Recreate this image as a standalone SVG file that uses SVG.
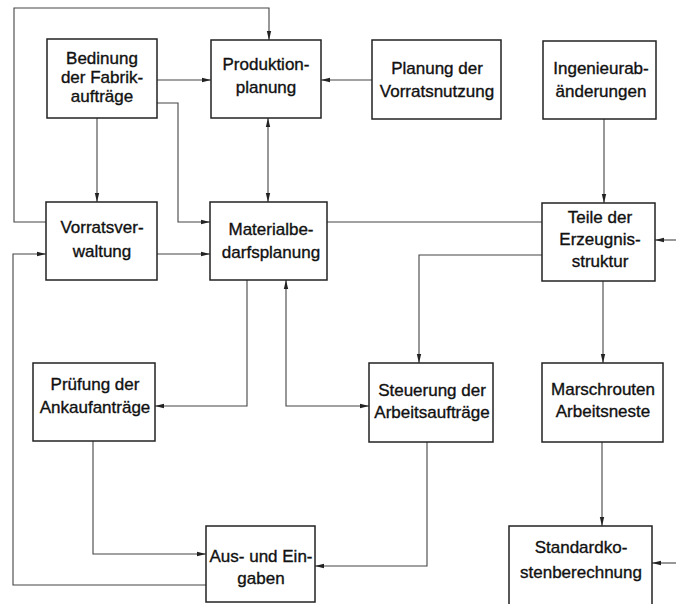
<svg xmlns="http://www.w3.org/2000/svg" width="676" height="604" viewBox="0 0 676 604">
<defs>
<style>
.box{fill:#fff;stroke:#222;stroke-width:1.5}
.lbl{font-family:"Liberation Sans",Arial,sans-serif;font-size:17px;fill:#111;stroke:#111;stroke-width:0.35;text-anchor:middle}
.c{fill:none;stroke:#444;stroke-width:1.1}
.a{marker-end:url(#ah)}
.b{marker-start:url(#ah);marker-end:url(#ah)}
</style>
<marker id="ah" markerUnits="userSpaceOnUse" markerWidth="9" markerHeight="6" viewBox="0 0 9 6" refX="9" refY="3" orient="auto-start-reverse">
<path d="M0,0.8 L9,3 L0,5.2 Z" fill="#222"/>
</marker>
</defs>
<rect width="676" height="604" fill="#fff"/>
<g id="connectors">
<path class="c a" d="M46,222 H14 V8 H269 V40"/>
<path class="c a" d="M157,80 H211"/>
<path class="c a" d="M372,80 H321"/>
<path class="c a" d="M97,118 V202"/>
<path class="c a" d="M157,103 H178 V222 H210"/>
<path class="c b" d="M268,118 V202"/>
<path class="c a" d="M157,254 H210"/>
<path class="c" d="M542,222 H327"/>
<path class="c a" d="M542,255 H419 V363"/>
<path class="c a" d="M604,119 V203"/>
<path class="c a" d="M676,240 H655"/>
<path class="c a" d="M247,280 V406 H155"/>
<path class="c b" d="M286,280 V406 H369"/>
<path class="c a" d="M603,281 V363"/>
<path class="c a" d="M93,441 V554 H206"/>
<path class="c a" d="M427,442 V566 H315"/>
<path class="c a" d="M206,585 H13 V254 H46"/>
<path class="c a" d="M602,442 V526"/>
<path class="c a" d="M676,563 H652"/>
</g>
<g id="bedinung"><rect class="box" x="47" y="39" width="110" height="79"/>
<text class="lbl" x="102" y="64">Bedinung</text><text class="lbl" x="102" y="83">der Fabrik-</text><text class="lbl" x="102" y="102">aufträge</text></g>
<g id="produktion"><rect class="box" x="211" y="40" width="110" height="78"/>
<text class="lbl" x="266" y="70">Produktion-</text><text class="lbl" x="266" y="93">planung</text></g>
<g id="planung"><rect class="box" x="372" y="40" width="129" height="79"/>
<text class="lbl" x="437" y="74">Planung der</text><text class="lbl" x="437" y="97">Vorratsnutzung</text></g>
<g id="ingenieur"><rect class="box" x="543" y="41" width="113" height="78"/>
<text class="lbl" x="601" y="74">Ingenieurab-</text><text class="lbl" x="601" y="97">änderungen</text></g>
<g id="vorrats"><rect class="box" x="46" y="202" width="111" height="78"/>
<text class="lbl" x="102" y="233">Vorratsver-</text><text class="lbl" x="102" y="257">waltung</text></g>
<g id="material"><rect class="box" x="210" y="202" width="117" height="78"/>
<text class="lbl" x="271" y="235">Materialbe-</text><text class="lbl" x="271" y="258">darfsplanung</text></g>
<g id="teile"><rect class="box" x="542" y="203" width="113" height="78"/>
<text class="lbl" x="600" y="223">Teile der</text><text class="lbl" x="600" y="245">Erzeugnis-</text><text class="lbl" x="600" y="267">struktur</text></g>
<g id="pruefung"><rect class="box" x="33" y="363" width="122" height="78"/>
<text class="lbl" x="95" y="390">Prüfung der</text><text class="lbl" x="95" y="413">Ankaufanträge</text></g>
<g id="steuerung"><rect class="box" x="369" y="363" width="124" height="79"/>
<text class="lbl" x="432" y="396">Steuerung der</text><text class="lbl" x="432" y="418">Arbeitsaufträge</text></g>
<g id="marschrouten"><rect class="box" x="542" y="363" width="121" height="79"/>
<text class="lbl" x="603" y="395">Marschrouten</text><text class="lbl" x="603" y="417">Arbeitsneste</text></g>
<g id="ausein"><rect class="box" x="206" y="526" width="109" height="76"/>
<text class="lbl" x="261" y="562">Aus- und Ein-</text><text class="lbl" x="261" y="584">gaben</text></g>
<g id="standard"><rect class="box" x="509" y="526" width="143" height="90"/>
<text class="lbl" x="581" y="553">Standardko-</text><text class="lbl" x="581" y="578">stenberechnung</text></g>
</svg>
